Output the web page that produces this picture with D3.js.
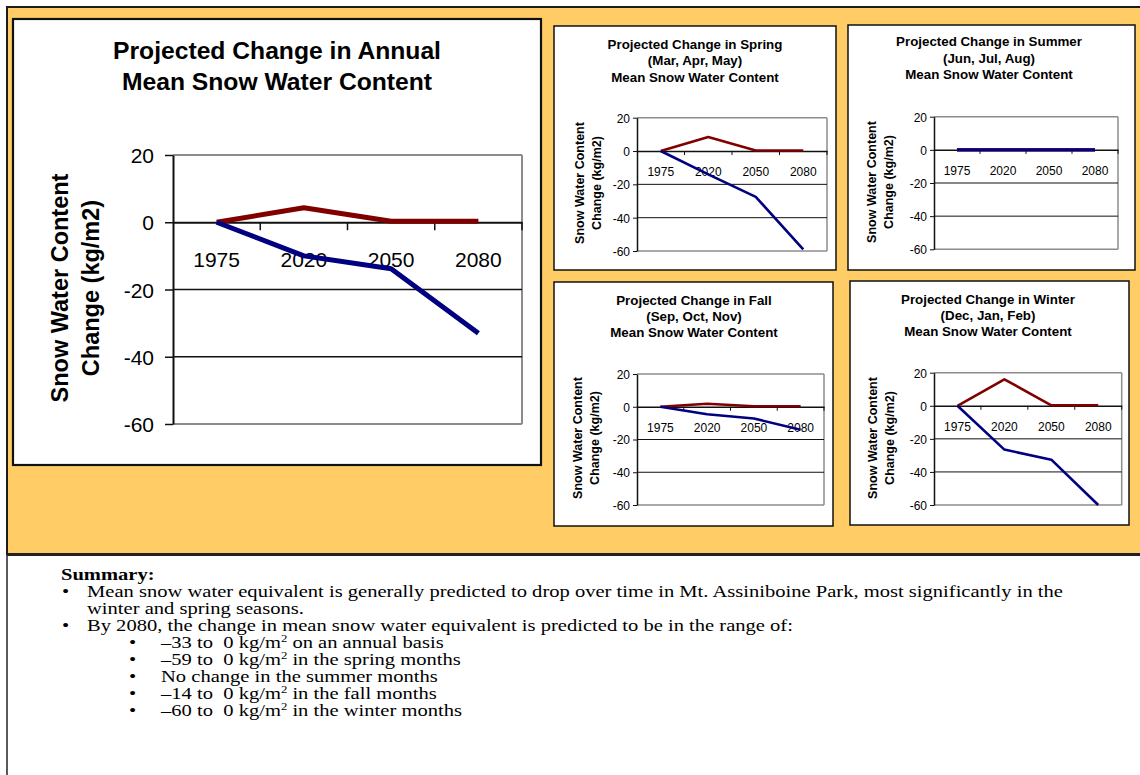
<!DOCTYPE html>
<html>
<head>
<meta charset="utf-8">
<script src="https://cdn.jsdelivr.net/npm/d3@7"></script>
<style>
  html, body { margin: 0; padding: 0; background: #fff; overflow: hidden; }
  text { white-space: pre; }
</style>
</head>
<body>
<svg id="c" width="1140" height="775"></svg>
<script>
// ---- data -------------------------------------------------------------
const years = ["1975", "2020", "2050", "2080"];
const yTicks = [20, 0, -20, -40, -60];

// upper (dark red) and lower (navy) projections, kg/m2
const annualHigh = [0, 4.3, 0.3, 0.3];
const annualLow  = [0, -10, -13.8, -33];
const springHigh = [0, 8.4, 0.3, 0.3];
const springLow  = [0, -14, -27.5, -59];
const summerHigh = [0, 0, 0, 0];
const summerLow  = [0, 0, 0, 0];
const fallHigh   = [0, 1.8, 0.3, 0.3];
const fallLow    = [0, -4.6, -7.2, -14];
const winterHigh = [0, 16, 0.3, 0.3];
const winterLow  = [0, -26.5, -32.6, -60];

const annualTitle = ["Projected Change in Annual", "Mean Snow Water Content"];
const springTitle = ["Projected Change in Spring", "(Mar, Apr, May)", "Mean Snow Water Content"];
const summerTitle = ["Projected Change in Summer", "(Jun, Jul, Aug)", "Mean Snow Water Content"];
const fallTitle   = ["Projected Change in Fall", "(Sep, Oct, Nov)", "Mean Snow Water Content"];
const winterTitle = ["Projected Change in Winter", "(Dec, Jan, Feb)", "Mean Snow Water Content"];
const axisTitle   = ["Snow Water Content", "Change (kg/m2)"];

const summaryHeading = "Summary:";
const summaryLines = [
  { level: 1, bullet: true,  parts: ["Mean snow water equivalent is generally predicted to drop over time in Mt. Assiniboine Park, most significantly in the"] },
  { level: 1, bullet: false, parts: ["winter and spring seasons."] },
  { level: 1, bullet: true,  parts: ["By 2080, the change in mean snow water equivalent is predicted to be in the range of:"] },
  { level: 2, bullet: true,  parts: ["\u201333 to  0 kg/m", "2", " on an annual basis"] },
  { level: 2, bullet: true,  parts: ["\u201359 to  0 kg/m", "2", " in the spring months"] },
  { level: 2, bullet: true,  parts: ["No change in the summer months"] },
  { level: 2, bullet: true,  parts: ["\u201314 to  0 kg/m", "2", " in the fall months"] },
  { level: 2, bullet: true,  parts: ["\u201360 to  0 kg/m", "2", " in the winter months"] }
];

// ---- styling ----------------------------------------------------------
const RED = "#800000", BLUE = "#000080", GRID_GRAY = "#8c8c8c";
const SANS = "'Liberation Sans', Arial, sans-serif";
const SERIF = "'Liberation Serif', 'Times New Roman', serif";
const STRETCH = 1.05;   // slide text is drawn slightly wide

const svg = d3.select("#c");

// orange backdrop and the summary frame
svg.append("rect").attr("x", 7).attr("y", 7).attr("width", 1150).attr("height", 547)
  .attr("fill", "#FFCC66").attr("stroke", "#1c1c1c").attr("stroke-width", 2);
svg.append("line").attr("x1", 7).attr("x2", 1150).attr("y1", 554.5).attr("y2", 554.5)
  .attr("stroke", "#222").attr("stroke-width", 3);
svg.append("line").attr("x1", 7).attr("x2", 7).attr("y1", 554).attr("y2", 775)
  .attr("stroke", "#222").attr("stroke-width", 1.5);

function drawChart(cfg) {
  const g = svg.append("g");
  const [bx0, by0, bx1, by1] = cfg.box;
  g.append("rect").attr("x", bx0).attr("y", by0).attr("width", bx1 - bx0).attr("height", by1 - by0)
    .attr("fill", "#fff").attr("stroke", "#111").attr("stroke-width", cfg.boxStroke);

  const x = d3.scaleBand().domain(years).range([cfg.x0, cfg.x1]);
  const y = d3.scaleLinear().domain([-60, 20]).range([cfg.yBot, cfg.yTop]);
  const cx = d => x(d) + x.bandwidth() / 2;

  // plot frame (gray) and horizontal grid (black)
  g.append("line").attr("x1", cfg.x0).attr("x2", cfg.x1).attr("y1", y(20)).attr("y2", y(20))
    .attr("stroke", GRID_GRAY).attr("stroke-width", cfg.gridW + 0.5);
  g.append("line").attr("x1", cfg.x0).attr("x2", cfg.x1).attr("y1", y(-60)).attr("y2", y(-60))
    .attr("stroke", GRID_GRAY).attr("stroke-width", cfg.gridW + 0.5);
  g.append("line").attr("x1", cfg.x1).attr("x2", cfg.x1).attr("y1", y(20)).attr("y2", y(-60))
    .attr("stroke", GRID_GRAY).attr("stroke-width", cfg.gridW + 0.5);
  g.selectAll("line.grid").data([-20, -40]).join("line").attr("class", "grid")
    .attr("x1", cfg.x0).attr("x2", cfg.x1).attr("y1", d => y(d)).attr("y2", d => y(d))
    .attr("stroke", "#111").attr("stroke-width", cfg.gridW);

  // value axis (hyphen-minus labels)
  const ya = g.append("g").attr("transform", `translate(${cfg.x0},0)`)
    .call(d3.axisLeft(y).tickValues(yTicks).tickSize(cfg.tickLen).tickSizeOuter(0)
      .tickPadding(cfg.yLabelGap - cfg.tickLen).tickFormat(d => String(d)));
  ya.select(".domain").attr("stroke", "#111").attr("stroke-width", cfg.gridW + 0.5);
  ya.selectAll(".tick line").attr("stroke", "#111").attr("stroke-width", cfg.gridW);
  ya.selectAll(".tick text").attr("font-family", SANS).attr("font-size", cfg.tickFont)
    .attr("fill", "#000").attr("dy", "0.36em");

  // category axis along the zero line, ticks between categories
  const xa = g.append("g").attr("transform", `translate(0,${y(0)})`)
    .call(d3.axisBottom(x).tickSize(0).tickSizeOuter(0).tickPadding(cfg.xLabelOff - 0.71 * cfg.tickFont));
  xa.select(".domain").attr("stroke", "#111").attr("stroke-width", cfg.gridW + 0.5);
  xa.selectAll(".tick text").attr("font-family", SANS).attr("font-size", cfg.tickFont).attr("fill", "#000");
  g.selectAll("line.xtick").data(years).join("line").attr("class", "xtick")
    .attr("x1", d => x(d) + x.bandwidth()).attr("x2", d => x(d) + x.bandwidth())
    .attr("y1", y(0)).attr("y2", y(0) + cfg.tickLen)
    .attr("stroke", "#111").attr("stroke-width", cfg.gridW);

  // series
  const line = d3.line().x((d, i) => cx(years[i])).y(d => y(d));
  [[cfg.high, RED], [cfg.low, BLUE]].forEach(([vals, col]) => {
    g.append("path").datum(vals).attr("d", line).attr("fill", "none")
      .attr("stroke", col).attr("stroke-width", cfg.lineW).attr("stroke-linejoin", "round");
  });

  // chart title
  cfg.title.forEach((t, i) => {
    g.append("text").attr("transform", `translate(${cfg.titleX},${cfg.titleY[i]}) scale(${STRETCH},1)`)
      .attr("text-anchor", "middle").attr("font-family", SANS).attr("font-weight", "bold")
      .attr("font-size", cfg.titleFont).text(t);
  });

  // value-axis title, two rotated lines
  axisTitle.forEach((t, i) => {
    g.append("text").attr("transform", `translate(${cfg.axisX[i]},${cfg.axisY}) rotate(-90)`)
      .attr("text-anchor", "middle").attr("font-family", SANS).attr("font-weight", "bold")
      .attr("font-size", cfg.axisFont).text(t);
  });
}

const small = { boxStroke: 1.5, tickFont: 12, titleFont: 12.7, axisFont: 12.5, lineW: 2.6,
                gridW: 1, tickLen: 4, xLabelOff: 25, yLabelGap: 7 };

drawChart({ box: [13, 19, 541, 465], boxStroke: 2.2, x0: 173, x1: 522, yTop: 155, yBot: 424,
  high: annualHigh, low: annualLow, title: annualTitle, titleX: 277, titleY: [59, 90],
  titleFont: 23.5, axisX: [68, 99], axisY: 288, axisFont: 23.5, tickFont: 21,
  lineW: 5, gridW: 1.5, tickLen: 8, xLabelOff: 45, yLabelGap: 19 });

drawChart(Object.assign({}, small, { box: [554, 26, 836, 270], x0: 637, x1: 827, yTop: 117.7, yBot: 251,
  high: springHigh, low: springLow, title: springTitle, titleX: 695, titleY: [48.5, 65, 81.5],
  axisX: [584, 601], axisY: 183 }));

drawChart(Object.assign({}, small, { box: [848, 25, 1135, 270], x0: 934, x1: 1118, yTop: 116.7, yBot: 249.3,
  high: summerHigh, low: summerLow, title: summerTitle, titleX: 989, titleY: [46, 62.5, 79],
  axisX: [876, 893], axisY: 182, lineW: 3.2 }));

drawChart(Object.assign({}, small, { box: [554, 282, 833, 526], x0: 637, x1: 824, yTop: 374, yBot: 505,
  high: fallHigh, low: fallLow, title: fallTitle, titleX: 694, titleY: [304.5, 320.5, 336.5],
  axisX: [582, 599], axisY: 438 }));

drawChart(Object.assign({}, small, { box: [850, 281, 1129, 525], x0: 934, x1: 1121.7, yTop: 372.7, yBot: 505,
  high: winterHigh, low: winterLow, title: winterTitle, titleX: 988, titleY: [303.5, 319.5, 335.5],
  axisX: [877, 894], axisY: 438 }));

// ---- summary text -----------------------------------------------------
const sumFont = 15.8;
const probe = svg.append("text").attr("font-family", SERIF).attr("font-size", sumFont).text(summaryLines[0].parts[0]);
const sx = 976 / probe.node().getComputedTextLength();
probe.remove();

const sg = svg.append("g");
function sText(x, y, bold) {
  return sg.append("text").attr("transform", `translate(${x},${y}) scale(${sx},1)`)
    .attr("font-family", SERIF).attr("font-size", sumFont).attr("font-weight", bold ? "bold" : null);
}
sText(61, 580, true).text(summaryHeading);

const lineY0 = 597, pitch = 17;
summaryLines.forEach((ln, i) => {
  const yy = lineY0 + i * pitch;
  const bx = ln.level === 1 ? 62 : 129;
  const tx = ln.level === 1 ? 87 : 161;
  if (ln.bullet) sText(bx, yy, false).text("\u2022");
  const t = sText(tx, yy, false);
  ln.parts.forEach((p, j) => {
    const ts = t.append("tspan").text(p);
    if (j === 1) ts.attr("font-size", sumFont * 0.62).attr("dy", -6);
    if (j === 2) ts.attr("dy", 6);
  });
});
</script>
</body>
</html>
